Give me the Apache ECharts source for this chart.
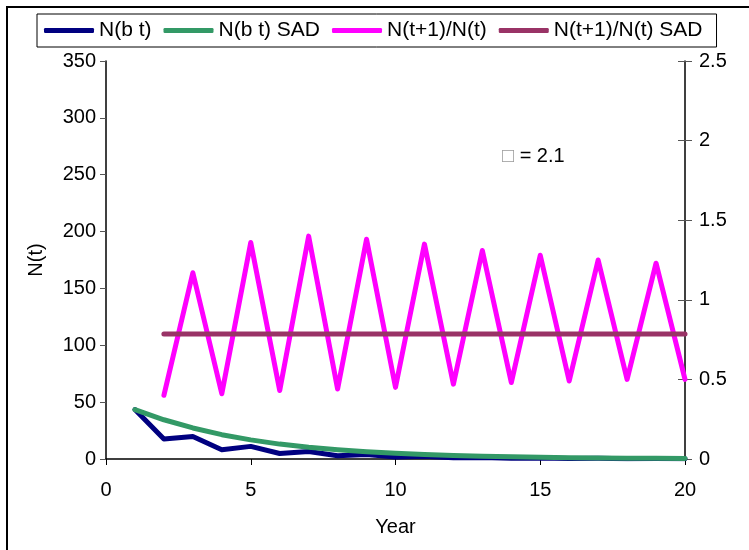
<!DOCTYPE html>
<html>
<head>
<meta charset="utf-8">
<script src="https://cdn.jsdelivr.net/npm/echarts@6/dist/echarts.min.js"></script>
<style>html,body{margin:0;padding:0;background:#fff}#c{width:749px;height:550px}</style>
</head>
<body>
<div id="c"></div>
<script>
var years = [1,2,3,4,5,6,7,8,9,10,11,12,13,14,15,16,17,18,19,20];
var nbt = [43.5,17.6,19.8,8.2,11.1,4.8,6.6,2.9,3.9,1.8,2.4,1.1,1.4,0.7,0.9,0.45,0.55,0.28,0.34,0.18];
var nbtSad = [43.5,34.5,27.3,21.4,16.8,13.1,10.3,8.1,6.3,5.0,3.9,3.1,2.4,1.9,1.5,1.2,0.9,0.7,0.55,0.43];
var ratioYears = [2,3,4,5,6,7,8,9,10,11,12,13,14,15,16,17,18,19,20];
var ratio = [0.40,1.17,0.41,1.36,0.43,1.40,0.44,1.38,0.45,1.35,0.47,1.31,0.48,1.28,0.49,1.25,0.50,1.23,0.50];
var ratioSad = [0.785,0.785,0.785,0.785,0.785,0.785,0.785,0.785,0.785,0.785,0.785,0.785,0.785,0.785,0.785,0.785,0.785,0.785,0.785];
var seriesNames = ['N(b t)','N(b t) SAD','N(t+1)/N(t)','N(t+1)/N(t) SAD'];
var annotation = '= 2.1';

function pairs(xs, ys){ return xs.map(function(x,i){ return [x, ys[i]]; }); }

var font = 'Liberation Sans, Arial, sans-serif';
var chart = echarts.init(document.getElementById('c'), null, {renderer:'canvas'});
function lineSeries(name, data, color, yIdx){
  return {name:name, type:'line', data:data, yAxisIndex:yIdx, symbol:'none', showSymbol:false,
    lineStyle:{color:color, width:5, cap:'round', join:'round'}, itemStyle:{color:color}, animation:false};
}
chart.setOption({
  animation:false,
  textStyle:{fontFamily:font},
  grid:{left:106, right:64, top:61, bottom:91},
  legend:{
    left:37, top:14, padding:[6,14,6,7], itemGap:12, itemWidth:50, itemHeight:5,
    icon:'roundRect', borderColor:'#000', borderWidth:1,
    textStyle:{fontFamily:font, fontSize:21, color:'#000'},
    data:seriesNames
  },
  xAxis:{type:'value', min:0, max:20, interval:5,
    name:'Year', nameLocation:'middle', nameGap:58,
    nameTextStyle:{fontFamily:font, fontSize:20, color:'#000'},
    axisLine:{lineStyle:{color:'#000', width:1.5}},
    axisTick:{show:true, inside:false, length:6, lineStyle:{color:'#000'}},
    axisLabel:{fontFamily:font, fontSize:20, color:'#000', margin:21},
    splitLine:{show:false}
  },
  yAxis:[
    {type:'value', min:0, max:350, interval:50, position:'left',
     name:'N(t)', nameLocation:'middle', nameGap:60, nameRotate:90,
     nameTextStyle:{fontFamily:font, fontSize:20, color:'#000'},
     axisLine:{show:true, lineStyle:{color:'#000', width:1.5}},
     axisTick:{show:true, inside:false, length:6, lineStyle:{color:'#555'}},
     axisLabel:{fontFamily:font, fontSize:20, color:'#000', margin:10},
     splitLine:{show:false}},
    {type:'value', min:0, max:2.5, interval:0.5, position:'right',
     axisLine:{show:true, lineStyle:{color:'#000', width:1.5}},
     axisTick:{show:true, inside:false, length:7, lineStyle:{color:'#555'}},
     axisLabel:{fontFamily:font, fontSize:20, color:'#000', margin:14},
     splitLine:{show:false}},
    {type:'value', min:0, max:2.5, interval:0.5, position:'right',
     axisLine:{show:false},
     axisTick:{show:true, inside:true, length:7, lineStyle:{color:'#555'}},
     axisLabel:{show:false},
     splitLine:{show:false}}
  ],
  series:[
    lineSeries(seriesNames[0], pairs(years, nbt), '#000080', 0),
    lineSeries(seriesNames[1], pairs(years, nbtSad), '#339966', 0),
    lineSeries(seriesNames[2], pairs(ratioYears, ratio), '#FF00FF', 1),
    lineSeries(seriesNames[3], pairs(ratioYears, ratioSad), '#993366', 1)
  ],
  graphic:[
    {type:'rect', shape:{x:7,y:7,width:780,height:600}, silent:true,
     style:{fill:'none', stroke:'#000', lineWidth:2}},
    {type:'text', left:502, top:146,
     style:{text:'{b|□} ' + annotation, rich:{b:{fill:'#999', fontFamily:font, fontSize:20}},
       fill:'#000', fontFamily:font, fontSize:20}}
  ]
});
</script>
</body>
</html>
